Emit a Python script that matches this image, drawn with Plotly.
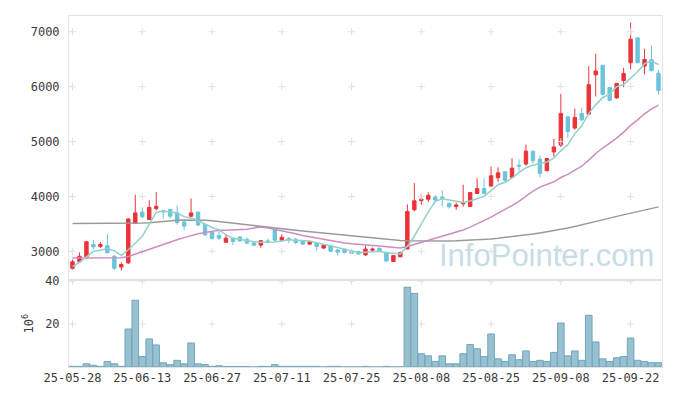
import plotly.graph_objects as go

dates = [
    "25-05-28", "25-05-29", "25-05-30",
    "25-06-02", "25-06-04", "25-06-05", "25-06-09", "25-06-10", "25-06-11", "25-06-12", "25-06-13",
    "25-06-16", "25-06-17", "25-06-18", "25-06-19", "25-06-20", "25-06-23", "25-06-24", "25-06-25",
    "25-06-26", "25-06-27", "25-06-30",
    "25-07-01", "25-07-02", "25-07-03", "25-07-04", "25-07-07", "25-07-08", "25-07-09", "25-07-10",
    "25-07-11", "25-07-14", "25-07-15", "25-07-16", "25-07-17", "25-07-18", "25-07-21", "25-07-22",
    "25-07-23", "25-07-24", "25-07-25", "25-07-28", "25-07-29", "25-07-30", "25-07-31",
    "25-08-01", "25-08-04", "25-08-05", "25-08-06", "25-08-07", "25-08-08", "25-08-11", "25-08-12",
    "25-08-13", "25-08-14", "25-08-18", "25-08-19", "25-08-20", "25-08-21", "25-08-22", "25-08-25",
    "25-08-26", "25-08-27", "25-08-28", "25-08-29",
    "25-09-01", "25-09-02", "25-09-03", "25-09-04", "25-09-05", "25-09-08", "25-09-09", "25-09-10",
    "25-09-11", "25-09-12", "25-09-15", "25-09-16", "25-09-17", "25-09-18", "25-09-19", "25-09-22",
    "25-09-23", "25-09-24", "25-09-25", "25-09-26",
]

opens = [2690, 2810, 2900, 3125, 3090, 3100, 2910, 2715, 2790, 3510,
         3715, 3580, 3780, 3745, 3765, 3700, 3535, 3640, 3715, 3490,
         3350, 3290, 3165, 3240, 3262, 3220, 3150, 3113, 3190, 3398,
         3202, 3230, 3220, 3190, 3131, 3149, 3060, 3101, 3024, 3042,
         3005, 2995, 2935, 3020, 3054, 2982, 2815, 2900, 3042, 3756,
         3925, 3950, 3990, 3990, 3875, 3815, 3865, 3815, 4054, 4143,
         4190, 4340, 4450, 4350, 4570, 4590, 4825, 4680, 4470, 4810,
         4935, 5450, 5245, 5510, 5500, 6215, 6390, 5985, 5795, 6110,
         6435, 6890, 6375, 6490, 6245]
highs = [2850, 2980, 3190, 3210, 3170, 3310, 2930, 2800, 3600, 4030,
         3800, 3930, 4080, 3750, 3770, 3835, 3590, 3965, 3720, 3495,
         3355, 3370, 3310, 3245, 3280, 3250, 3170, 3200, 3230, 3400,
         3310, 3260, 3250, 3200, 3190, 3160, 3130, 3105, 3042, 3045,
         3020, 3012, 3100, 3070, 3070, 2990, 2930, 2990, 3855, 4240,
         4044, 4075, 4024, 4113, 3885, 3890, 4215, 4080, 4330, 4330,
         4548, 4530, 4460, 4695, 4675, 4945, 4830, 4740, 4700, 5050,
         5870, 5455, 5600, 5620, 6375, 6595, 6395, 6000, 6065, 6345,
         7165, 6895, 6690, 6750, 6300]
lows = [2670, 2790, 2860, 3040, 3060, 2960, 2665, 2650, 2770, 3500,
        3600, 3575, 3745, 3590, 3600, 3490, 3380, 3620, 3460, 3280,
        3215, 3205, 3160, 3113, 3170, 3130, 3090, 3065, 3150, 3200,
        3200, 3150, 3130, 3125, 3125, 3012, 3042, 2995, 2923, 2958,
        2945, 2940, 2915, 2995, 3000, 2815, 2810, 2895, 3040, 3726,
        3845, 3900, 3895, 3815, 3780, 3756, 3815, 3815, 4040, 4040,
        4172, 4265, 4265, 4340, 4455, 4560, 4600, 4350, 4460, 4720,
        4900, 5065, 5215, 5365, 5495, 5820, 5840, 5735, 5780, 5990,
        6315, 6430, 6225, 6280, 5850]
closes = [2810, 2910, 3175, 3080, 3125, 2975, 2690, 2760, 3590, 3700,
          3630, 3800, 3820, 3715, 3640, 3525, 3460, 3700, 3480, 3300,
          3235, 3240, 3240, 3180, 3190, 3150, 3113, 3195, 3180, 3202,
          3255, 3220, 3160, 3131, 3173, 3089, 3113, 3000, 2982, 2982,
          2965, 2952, 3042, 3040, 3005, 2822, 2923, 2982, 3726, 3920,
          3950, 4020, 3935, 3965, 3810, 3845, 3890, 4070, 4143, 4054,
          4375, 4430, 4295, 4515, 4555, 4825, 4650, 4420, 4690, 4900,
          5510, 5185, 5440, 5395, 6035, 6285, 5860, 5750, 6060, 6240,
          6865, 6435, 6495, 6290, 5930]

ma5 = [2720, 2800, 2900, 3000, 3020, 3053, 3009, 2926, 3028, 3143,
       3274, 3496, 3708, 3733, 3721, 3700, 3632, 3608, 3561, 3493,
       3435, 3391, 3299, 3239, 3217, 3200, 3175, 3166, 3166, 3168,
       3189, 3210, 3203, 3194, 3188, 3155, 3133, 3101, 3071, 3033,
       3008, 2976, 2985, 2996, 3001, 2972, 2966, 2954, 3092, 3275,
       3500, 3720, 3910, 3958, 3936, 3915, 3889, 3916, 3952, 4000,
       4106, 4214, 4259, 4334, 4434, 4524, 4568, 4593, 4628, 4697,
       4834, 4941, 5145, 5286, 5513, 5668, 5803, 5865, 5998, 6039,
       6155, 6270, 6419, 6465, 6403]
ma20 = [2880, 2882, 2885, 2887, 2888, 2890, 2888, 2885, 2905, 2950,
        2995, 3040, 3085, 3120, 3165, 3210, 3250, 3290, 3320, 3344,
        3366, 3382, 3385, 3390, 3394, 3402, 3423, 3445, 3425, 3400,
        3381, 3352, 3319, 3290, 3266, 3245, 3227, 3192, 3167, 3152,
        3138, 3124, 3114, 3107, 3097, 3081, 3072, 3061, 3088, 3124,
        3159, 3199, 3238, 3279, 3311, 3349, 3388, 3441, 3499, 3553,
        3623, 3697, 3760, 3834, 3911, 4011, 4098, 4170, 4218, 4267,
        4345, 4403, 4478, 4550, 4661, 4783, 4882, 4966, 5061, 5171,
        5295, 5396, 5506, 5594, 5663]
ma60 = [3505, 3505, 3505, 3506, 3507, 3508, 3508, 3509, 3510, 3512,
        3515, 3520, 3535, 3550, 3560, 3568, 3572, 3575, 3575, 3568,
        3555, 3540, 3525, 3510, 3495, 3478, 3460, 3445, 3430, 3418,
        3405, 3393, 3382, 3370, 3358, 3345, 3333, 3322, 3310, 3295,
        3280, 3265, 3250, 3237, 3225, 3215, 3205, 3198, 3192, 3190,
        3188, 3187, 3187, 3188, 3190, 3193, 3197, 3202, 3208, 3215,
        3225, 3237, 3250, 3265, 3280, 3297, 3315, 3335, 3355, 3378,
        3400, 3425, 3452, 3480, 3510, 3540, 3572, 3605, 3637, 3668,
        3700, 3730, 3760, 3790, 3810]
volumes = [0.3, 0.3, 1.5, 0.8, 0.3, 2.6, 1.5, 0.3, 17.7, 31.1,
           4.9, 13.1, 10.3, 2.0, 1.1, 3.1, 1.5, 11.2, 1.5, 1.1,
           0.3, 0.6, 0.2, 0.2, 0.2, 0.2, 0.05, 0.3, 0.3, 1.1,
           0.3, 0.3, 0.3, 0.3, 0.3, 0.3, 0.05, 0.3, 0.3, 0.05,
           0.05, 0.05, 0.3, 0.05, 0.05, 0.3, 0.05, 0.05, 37.2, 34.3,
           6.2, 5.2, 2.6, 5.2, 1.5, 1.5, 6.2, 10.5, 8.5, 4.9,
           15.4, 3.8, 2.6, 5.7, 3.4, 7.5, 2.6, 3.1, 2.6, 6.8,
           20.5, 5.2, 7.5, 3.1, 24.1, 11.7, 3.8, 2.6, 4.3, 4.9,
           13.5, 3.1, 2.6, 2.0, 2.0]

price_ticks = [3000, 4000, 5000, 6000, 7000]
vol_ticks = [20, 40]
tick_step = 10
watermark = "InfoPointer.com"

idx = list(range(len(dates)))
tick_idx = idx[::tick_step]
tick_lab = dates[::tick_step]

FONT = "DejaVu Sans Mono, monospace"
TXT = "#3a3a3a"
FRAME = "#e3e3e3"
PLUS = "#e0e0e0"

fig = go.Figure()

# grid "+" marks (volume marks hidden where a bar covers them)
fig.add_trace(go.Scatter(
    x=[i for i in tick_idx for _ in price_ticks],
    y=[p for _ in tick_idx for p in price_ticks],
    mode="markers", xaxis="x", yaxis="y", hoverinfo="skip",
    marker=dict(symbol="cross-thin", size=5, line=dict(color=PLUS, width=1)),
))
vol_marks = [(i, v) for i in tick_idx for v in vol_ticks if volumes[i] < v]
fig.add_trace(go.Scatter(
    x=[m[0] for m in vol_marks],
    y=[m[1] for m in vol_marks],
    mode="markers", xaxis="x2", yaxis="y2", hoverinfo="skip",
    marker=dict(symbol="cross-thin", size=5, line=dict(color=PLUS, width=1)),
))

fig.add_trace(go.Scatter(x=idx, y=ma60, mode="lines", xaxis="x", yaxis="y",
                         line=dict(color="#9a9a9a", width=1.5), hoverinfo="skip"))
fig.add_trace(go.Scatter(x=idx, y=ma20, mode="lines", xaxis="x", yaxis="y",
                         line=dict(color="#cc8cc2", width=1.5), hoverinfo="skip"))

fig.add_trace(go.Candlestick(
    x=idx, open=opens, high=highs, low=lows, close=closes,
    xaxis="x", yaxis="y",
    increasing=dict(line=dict(color="#ec3238", width=1), fillcolor="#ec3238"),
    decreasing=dict(line=dict(color="#6cc3da", width=1), fillcolor="#6cc3da"),
))

fig.add_trace(go.Scatter(x=idx, y=ma5, mode="lines", xaxis="x", yaxis="y",
                         line=dict(color="#92d0c9", width=1.5), hoverinfo="skip"))

fig.add_trace(go.Bar(
    x=idx, y=volumes, xaxis="x2", yaxis="y2",
    marker=dict(color="#97c0d0", line=dict(color="#74a6bc", width=1)),
))

fig.add_annotation(
    text=watermark, xref="paper", yref="paper", x=0.99, y=0.318,
    xanchor="right", yanchor="middle", showarrow=False,
    font=dict(family="Liberation Sans, Arial, sans-serif", size=31, color="#c8dce6"),
)

axis_common = dict(showgrid=False, zeroline=False, showline=True, mirror=True,
                   linecolor=FRAME, linewidth=1, ticks="")

fig.update_layout(
    width=673, height=396,
    margin=dict(l=69, r=10, t=10, b=29),
    paper_bgcolor="white", plot_bgcolor="white",
    showlegend=False, bargap=0.05, hovermode=False,
    font=dict(family=FONT, size=12, color=TXT),
    xaxis=dict(domain=[0, 1], anchor="y", range=[-0.5, len(dates) - 0.5],
               showticklabels=False, tickvals=tick_idx,
               rangeslider=dict(visible=False), **axis_common),
    xaxis2=dict(domain=[0, 1], anchor="y2", matches="x", range=[-0.5, len(dates) - 0.5],
                tickvals=tick_idx, ticktext=tick_lab,
                tickfont=dict(family=FONT, size=12, color=TXT), **axis_common),
    yaxis=dict(domain=[0.249, 1], anchor="x", range=[2485, 7287],
               tickvals=price_ticks, ticklabelstandoff=6,
               tickfont=dict(family=FONT, size=12, color=TXT), **axis_common),
    yaxis2=dict(domain=[0, 0.247], anchor="x2", range=[0, 40.4],
                tickvals=vol_ticks, ticklabelstandoff=6,
                tickfont=dict(family=FONT, size=12, color=TXT),
                title=dict(text="10<sup>6</sup>", standoff=8,
                           font=dict(family=FONT, size=12, color=TXT)),
                **axis_common),
)

fig.write_html(
    "out.html",
    config={"displayModeBar": False, "staticPlot": True},
    post_script="document.body.style.margin='0';document.body.style.overflow='hidden';",
)
